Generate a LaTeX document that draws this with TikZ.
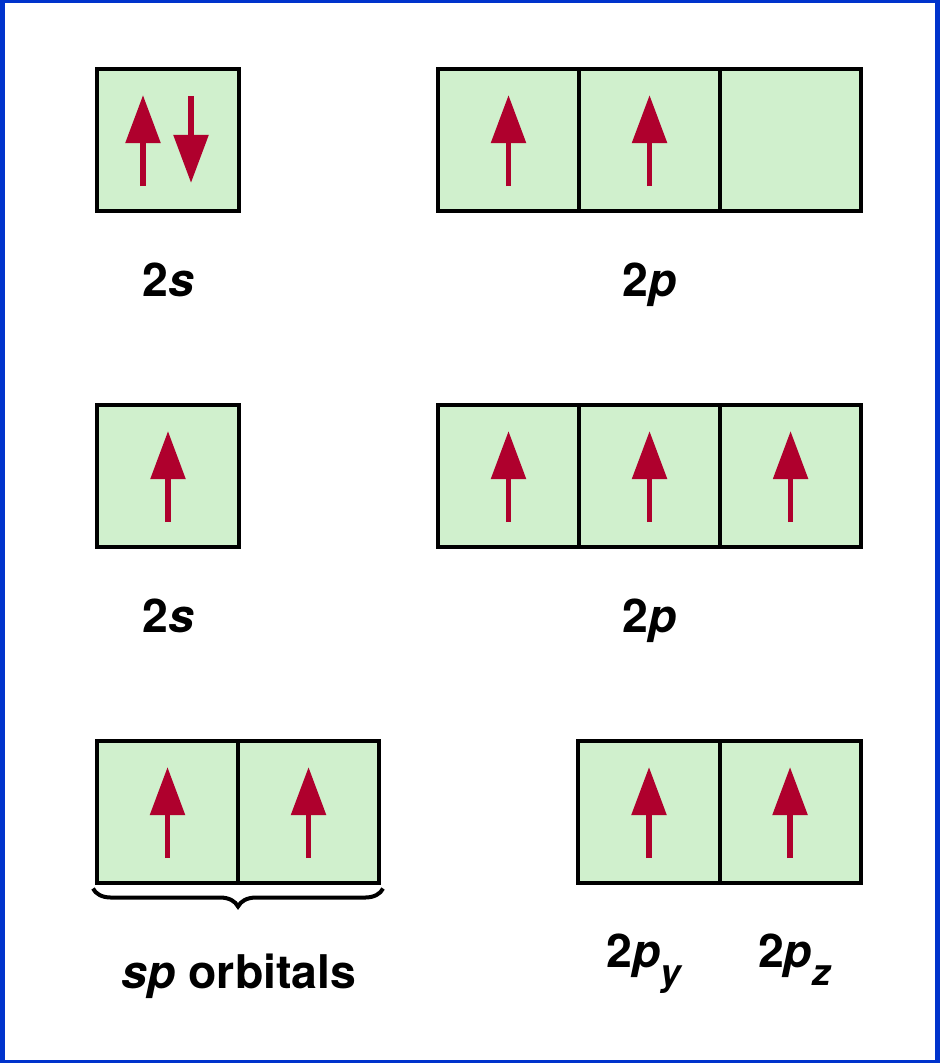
\documentclass[tikz,border=0pt]{standalone}
\usepackage{fontspec}
\setmainfont{TeX Gyre Heros}
\usepackage{tikz}
\usetikzlibrary{arrows.meta, positioning, decorations.pathreplacing}

\definecolor{frameblue}{RGB}{0,51,204}
\definecolor{boxgreen}{RGB}{208,240,205}
\definecolor{spinred}{RGB}{175,0,45}

\begin{document}
\begin{tikzpicture}[
            x = 0.025cm, y = -0.025cm, % one unit per pixel, y down
            node distance = 3.525cm, % width of one orbital box
            semithick % line style
        ]

        \tikzstyle{orbital}=[
            draw = black,
            line width = 0.1cm,
            fill = boxgreen,
            minimum size = 3.525cm,
            inner sep = 0pt,
            outer sep = 0pt
        ]
        \tikzstyle{spin}=[
            draw = spinred,
            line width = 0.14cm,
            -{Triangle[width=0.85cm, length=1.2cm]}
        ]
        \tikzstyle{orblabel}=[
            anchor = base,
            inner sep = 0pt,
            font = \fontsize{33}{40}\selectfont\bfseries
        ]

        % frame
        \fill[frameblue] (0,0) rectangle (940,1063);
        \fill[white] (5,3) rectangle (935,1060);

        % ground state
        \node[orbital] (s1) at (168,140) {};
        \node[orbital] (p1a) at (508.5,140) {};
        \node[orbital] (p1b) [right of=p1a] {};
        \node[orbital] (p1c) [right of=p1b] {};

        % promoted state
        \node[orbital] (s2) at (168,476) {};
        \node[orbital] (p2a) at (508.5,476) {};
        \node[orbital] (p2b) [right of=p2a] {};
        \node[orbital] (p2c) [right of=p2b] {};

        % hybridised state
        \node[orbital] (sp1) at (167.5,812) {};
        \node[orbital] (sp2) [right of=sp1] {};
        \node[orbital] (py) at (649,812) {};
        \node[orbital] (pz) [right of=py] {};

        % electrons
        \draw[spin, shorten <=0.61cm, shorten >=0.64cm] ([xshift=-0.625cm]s1.south) -- ([xshift=-0.625cm]s1.north);
        \draw[spin, shorten <=0.66cm, shorten >=0.69cm] ([xshift=0.575cm]s1.north) -- ([xshift=0.575cm]s1.south);
        \foreach \c in {p1a, p1b, s2, p2a, p2b, p2c, sp1, sp2, py, pz}
            \draw[spin, shorten <=0.61cm, shorten >=0.64cm] (\c.south) -- (\c.north);

        % brace under the sp boxes
        \draw[line width=0.1cm, decorate, decoration={brace, mirror, amplitude=0.45cm}]
            ([xshift=-0.1cm, yshift=-0.15cm]sp1.south west) -- ([xshift=0.1cm, yshift=-0.15cm]sp2.south east);

        % labels
        \node[orblabel] (l2s1) at (168,296) {2\textit{s}};
        \node[orblabel] (l2p1) at (650,296) {2\textit{p}};
        \node[orblabel] (l2s2) at (168,632) {2\textit{s}};
        \node[orblabel] (l2p2) at (650,632) {2\textit{p}};
        \node[orblabel] (lsp) at (239,988) {\textit{sp} orbitals};
        \node[orblabel] (lpy) at (645,967) {2\textit{p}\raisebox{-0.45cm}{\fontsize{26}{30}\selectfont\textit{y}}};
        \node[orblabel] (lpz) at (795,967) {2\textit{p}\raisebox{-0.45cm}{\fontsize{26}{30}\selectfont\textit{z}}};

    \end{tikzpicture}
\end{document}
